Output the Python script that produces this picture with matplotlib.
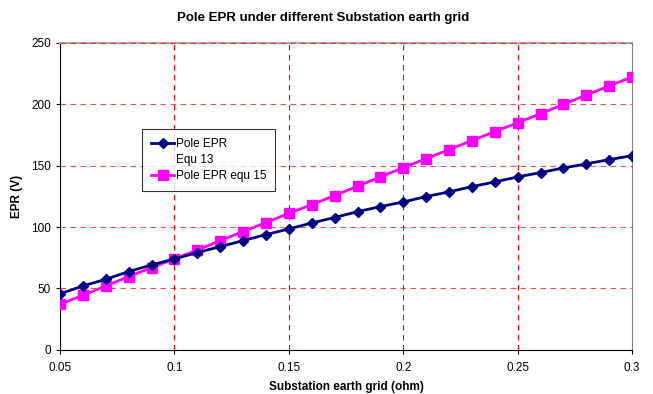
import matplotlib
matplotlib.use("Agg")
import matplotlib.pyplot as plt
from matplotlib.lines import Line2D

plt.rcParams['font.family'] = ['Liberation Sans', 'DejaVu Sans']

# substation earth grid resistance (ohm)
grid_ohm = [0.05, 0.06, 0.07, 0.08, 0.09, 0.10, 0.11, 0.12, 0.13, 0.14, 0.15, 0.16, 0.17,
            0.18, 0.19, 0.20, 0.21, 0.22, 0.23, 0.24, 0.25, 0.26, 0.27, 0.28, 0.29, 0.30]
# pole EPR, equ 13
epr_13 = [45.6, 52.1, 57.5, 63.8, 69.2, 74.1, 79.3, 84.1, 89.0, 93.9, 98.5, 103.4, 107.8,
          112.6, 116.7, 120.5, 124.9, 128.7, 133.0, 136.8, 140.9, 144.4, 148.2, 151.5, 155.0, 158.2]
# pole EPR, equ 15
epr_15 = [37.2, 44.5, 52.1, 59.7, 67.0, 74.1, 81.4, 89.0, 96.4, 103.7, 111.3, 118.3, 125.7,
          133.3, 140.9, 148.5, 155.8, 163.1, 170.5, 177.8, 185.1, 192.4, 200.0, 207.6, 215.0, 222.3]

xticks = [0.05, 0.1, 0.15, 0.2, 0.25, 0.3]
xtick_labels = ['0.05', '0.1', '0.15', '0.2', '0.25', '0.3']
yticks = [0, 50, 100, 150, 200, 250]

fig = plt.figure(figsize=(6.53, 3.94), dpi=100)
ax = fig.add_axes([0.092, 0.112, 0.876, 0.779])

l13, = ax.plot(grid_ohm, epr_13, color='#000080', linewidth=2, marker='D', markersize=5.5,
               zorder=4)
l15, = ax.plot(grid_ohm, epr_15, color='#FF00FF', linewidth=2, marker='s', markersize=7,
               zorder=3)

ax.set_xlim(0.05, 0.3)
ax.set_ylim(0, 250)
ax.set_xticks(xticks)
ax.set_xticklabels(xtick_labels)
ax.set_yticks(yticks)
ax.tick_params(labelsize=8.5, length=3, direction='out')
ax.tick_params(axis='x', pad=6)

# red dashed gridlines
for v in xticks[1:-1]:
    ax.axvline(v, color='#FF0000', linestyle=(0, (5, 4)), linewidth=0.8, zorder=1)
for v in yticks[1:]:
    ax.axhline(v, color='#FF0000', linestyle=(0, (5, 4)), linewidth=0.8, alpha=0.7,
               zorder=2.6, clip_on=False)

ax.spines['top'].set_color('#A8A8A8')
ax.spines['top'].set_linewidth(1.5)
ax.spines['right'].set_color('#808080')
ax.spines['left'].set_color('black')
ax.spines['bottom'].set_color('black')

fig.text(0.495, 1 - 18 / 394, 'Pole EPR under different Substation earth grid', fontsize=9.5,
         fontweight='bold', ha='center', va='center')
ax.set_xlabel('Substation earth grid (ohm)', fontsize=8.5, fontweight='bold', labelpad=5)
ax.set_ylabel('EPR (V)', fontsize=8.5, fontweight='bold', labelpad=6)

blank = Line2D([], [], color='none')
leg = ax.legend([l13, blank, l15], ['Pole EPR', 'Equ 13', 'Pole EPR equ 15'],
                loc='upper left', bbox_to_anchor=(0.143, 0.72), borderaxespad=0,
                fontsize=8.5, frameon=True, fancybox=False, edgecolor='black',
                borderpad=0.75, handlelength=2.0, handletextpad=0.1, labelspacing=0.35)
leg.get_frame().set_linewidth(0.8)

fig.savefig('out.png', dpi=100)
